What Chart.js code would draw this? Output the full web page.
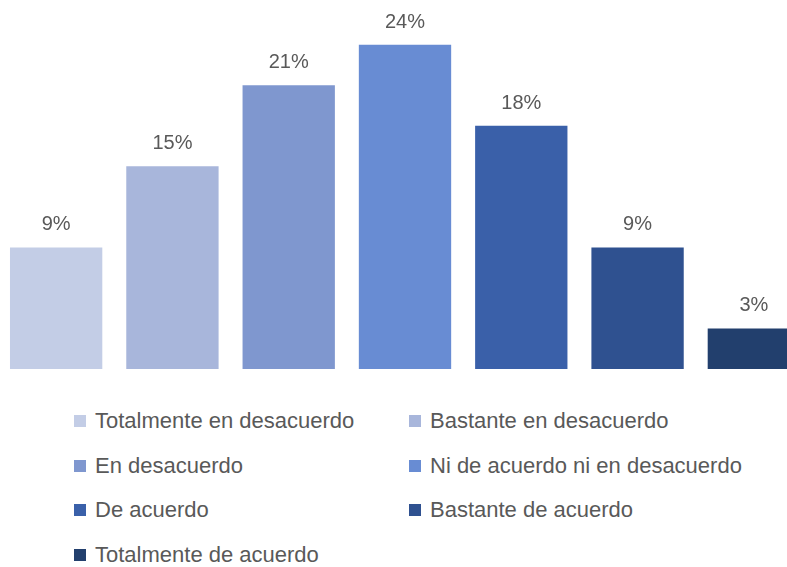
<!DOCTYPE html>
<html>
<head>
<meta charset="utf-8">
<script src="https://cdn.jsdelivr.net/npm/chart.js@4/dist/chart.umd.min.js"></script>
<style>
  html, body { margin: 0; padding: 0; background: #fff; overflow: hidden; width: 787px; height: 567px; }
  #wrap { position: absolute; left: -2px; top: 0; width: 814px; height: 369px; }
  #legend { position: absolute; left: 74px; top: 408px; width: 713px; font-family: "Liberation Sans", Arial, sans-serif; font-size: 22px; color: #595959; }
  .item { position: absolute; display: flex; align-items: center; white-space: nowrap; height: 26px; }
  .sw { width: 12px; height: 12px; margin-right: 9px; }
</style>
</head>
<body>
<div id="wrap"><canvas id="c"></canvas></div>
<div id="legend"></div>
<script>
const categories = [
  "Totalmente en desacuerdo",
  "Bastante en desacuerdo",
  "En desacuerdo",
  "Ni de acuerdo ni en desacuerdo",
  "De acuerdo",
  "Bastante de acuerdo",
  "Totalmente de acuerdo"
];
const values = [9, 15, 21, 24, 18, 9, 3];
const colors = ["#C3CDE6", "#A8B6DB", "#7F97CF", "#688CD3", "#3A60A9", "#2F5190", "#223F6D"];

const labelPlugin = {
  id: "valueLabels",
  afterDatasetsDraw(chart) {
    const ctx = chart.ctx;
    ctx.save();
    ctx.font = '20px "Liberation Sans", Arial, sans-serif';
    ctx.fillStyle = "#595959";
    ctx.textAlign = "center";
    ctx.textBaseline = "alphabetic";
    chart.data.datasets.forEach((ds, i) => {
      const meta = chart.getDatasetMeta(i);
      meta.data.forEach((bar, j) => {
        ctx.fillText(ds.data[j] + "%", bar.x, bar.y - 17);
      });
    });
    ctx.restore();
  }
};

new Chart(document.getElementById("c"), {
  type: "bar",
  data: {
    labels: [""],
    datasets: categories.map((c, i) => ({
      label: c,
      data: [values[i]],
      backgroundColor: colors[i],
      borderWidth: 0
    }))
  },
  options: {
    responsive: true,
    maintainAspectRatio: false,
    animation: false,
    layout: { padding: 0 },
    datasets: { bar: { categoryPercentage: 1, barPercentage: 0.794 } },
    plugins: { legend: { display: false }, tooltip: { enabled: false } },
    scales: {
      x: { display: false },
      y: { display: false, min: 0, max: 27.31 }
    }
  },
  plugins: [labelPlugin]
});

const legend = document.getElementById("legend");
const colX = [0, 335];
const rowY = [0, 44.5, 89, 133.5];
categories.forEach((c, i) => {
  const it = document.createElement("div");
  it.className = "item";
  it.style.left = colX[i % 2] + "px";
  it.style.top = rowY[Math.floor(i / 2)] + "px";
  const sw = document.createElement("span");
  sw.className = "sw";
  sw.style.background = colors[i];
  const tx = document.createElement("span");
  tx.textContent = c;
  it.appendChild(sw);
  it.appendChild(tx);
  legend.appendChild(it);
});
</script>
</body>
</html>
